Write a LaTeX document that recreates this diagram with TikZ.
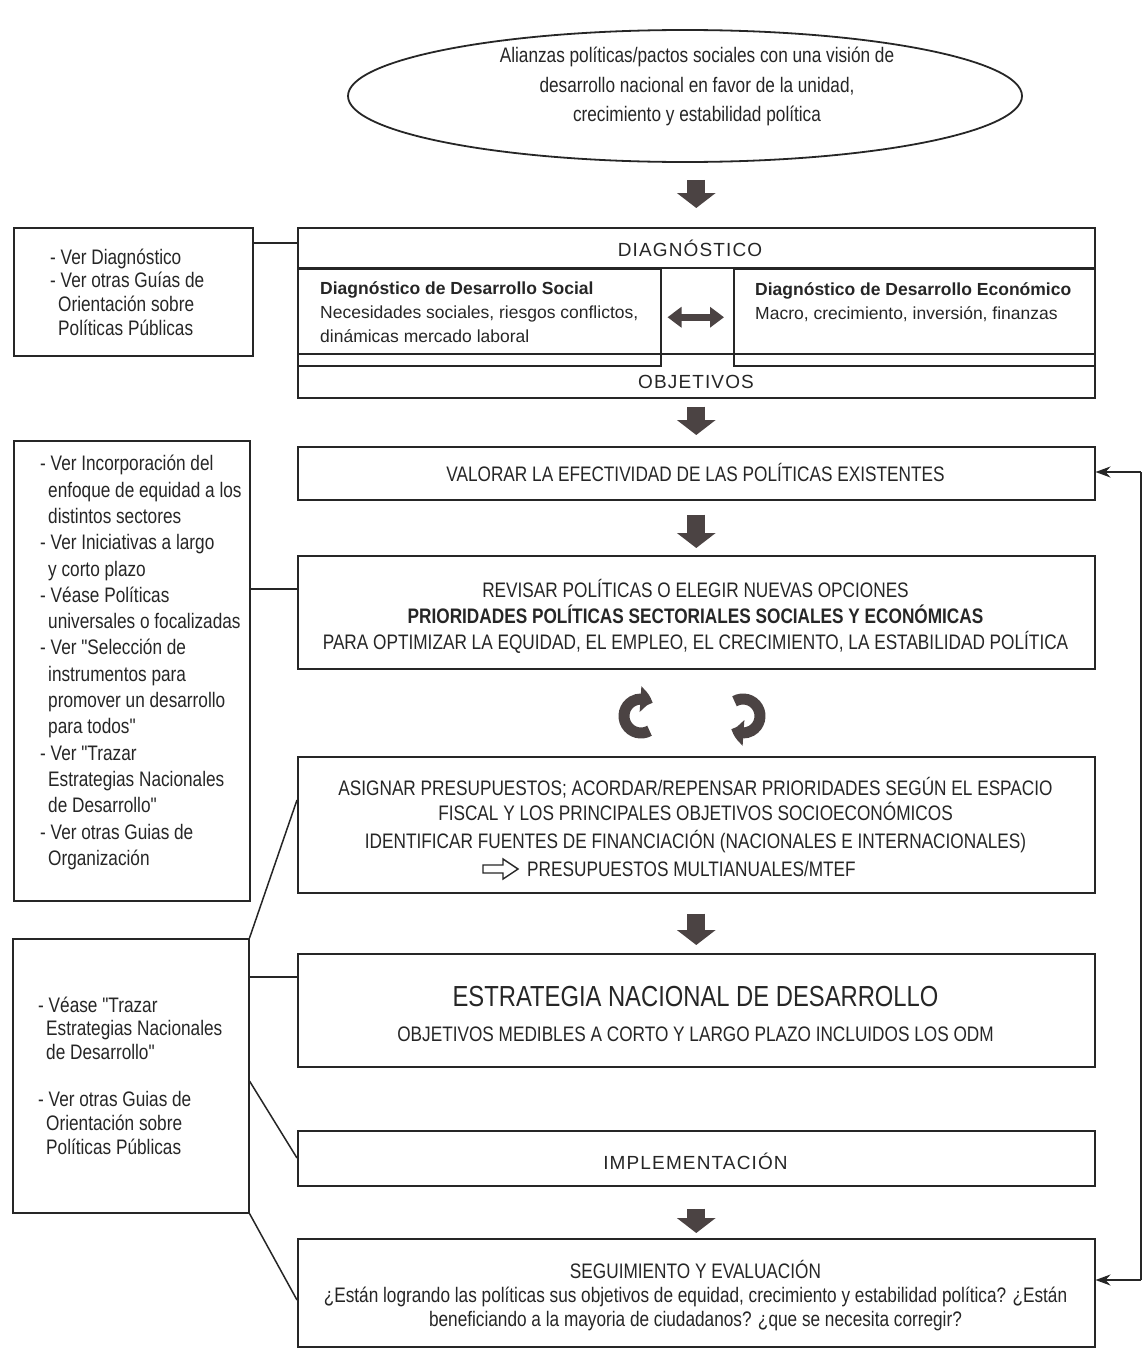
\documentclass[tikz,border=0pt]{standalone}
\usepackage{fontspec}
\setmainfont{Liberation Sans}
\newfontfamily\narrowfont[FakeStretch=0.82]{Liberation Sans}
\newfontfamily\spacedfont[LetterSpace=6]{Liberation Sans}
\usetikzlibrary{shapes.geometric,arrows.meta,calc,bending}
\definecolor{ink}{HTML}{262626}
\definecolor{arrowfill}{HTML}{4B4343}
\newcommand\hind{\hspace*{8pt}}
\begin{document}
\begin{tikzpicture}[x=1pt,y=-1pt,
  box/.style={draw=ink, line width=1.5pt, inner sep=0pt, anchor=north west},
  cline/.style={draw=ink, line width=1.5pt},
  nt/.style={font=\narrowfont\fontsize{21}{26}\selectfont, text=ink, inner sep=0pt, align=center},
  lt/.style={font=\narrowfont\fontsize{21}{23.6}\selectfont, text=ink, inner sep=0pt, align=left, anchor=west},
  dt/.style={font=\fontsize{17.5}{24}\selectfont, text=ink, inner sep=0pt, align=left, anchor=west},
  st/.style={font=\spacedfont\fontsize{19}{22}\selectfont, text=ink, inner sep=0pt},
  blk/.style={draw=arrowfill, line width=18pt, -{Triangle[width=38pt,length=15pt]}},
  dbl/.style={draw=arrowfill, line width=7pt, {Triangle[width=20pt,length=14pt]}-{Triangle[width=20pt,length=14pt]}},
  circ/.style={draw=arrowfill, line width=11pt, -{Triangle[width=25pt,length=13pt,bend]}},
  loopline/.style={draw=ink, line width=1.4pt},
  looparrow/.style={draw=ink, line width=1.4pt, -{Stealth[length=15pt,width=11pt]}}
]
\fill[white] (0,0) rectangle (1144,1349);
\useasboundingbox (0,0) rectangle (1144,1349);

% top ellipse
\node[draw=ink, line width=1.8pt, ellipse, minimum width=674pt, minimum height=132pt, inner sep=0pt] (ell) at (685,96) {};
\node[nt, font=\narrowfont\fontsize{21}{29.5}\selectfont] (ellt) at (697,86.5)
  {Alianzas políticas/pactos sociales con una visión de\\desarrollo nacional en favor de la unidad,\\crecimiento y estabilidad política};

% diagnostic block
\node[box, minimum width=797pt, minimum height=170pt] (diag) at (297,227) {};
\node[box, minimum width=363pt, minimum height=97pt] (social) at (297,268) {};
\node[box, minimum width=361pt, minimum height=97pt] (econ) at (733,268) {};
\draw[cline] (diag.west |- social.north) -- (diag.east |- social.north);
\coordinate (objl) at ($(diag.north west)+(0,127)$);
\draw[cline] (objl) -- (objl -| diag.east);
\node[st] (diagt) at (690,248) {DIAGNÓSTICO};
\node[st] (objt) at (696,382) {OBJETIVOS};
\node[dt] (socialt) at (320,312) {\textbf{Diagnóstico de Desarrollo Social}\\Necesidades sociales, riesgos conflictos,\\dinámicas mercado laboral};
\node[dt] (econt) at (755,302) {\textbf{Diagnóstico de Desarrollo Económico}\\Macro, crecimiento, inversión, finanzas};
\draw[dbl, shorten <=6pt, shorten >=9pt] (social.east) -- (econ.west);

% main boxes
\node[box, minimum width=797pt, minimum height=53pt] (val) at (297,446) {};
\node[box, minimum width=797pt, minimum height=113pt] (rev) at (297,555) {};
\node[box, minimum width=797pt, minimum height=136pt] (asg) at (297,756) {};
\node[box, minimum width=797pt, minimum height=113pt] (est) at (297,953) {};
\node[box, minimum width=797pt, minimum height=55pt] (impl) at (297,1130) {};
\node[box, minimum width=797pt, minimum height=108pt] (seg) at (297,1238) {};

\node[nt] (valt) at (695.5,472.5) {VALORAR LA EFECTIVIDAD DE LAS POLÍTICAS EXISTENTES};
\node[nt] (revt) at (695.5,616) {REVISAR POLÍTICAS O ELEGIR NUEVAS OPCIONES\\\textbf{PRIORIDADES POLÍTICAS SECTORIALES SOCIALES Y ECONÓMICAS}\\PARA OPTIMIZAR LA EQUIDAD, EL EMPLEO, EL CRECIMIENTO, LA ESTABILIDAD POLÍTICA};
\node[nt, font=\narrowfont\fontsize{21}{24.5}\selectfont] (asg1) at (695.5,799) {ASIGNAR PRESUPUESTOS; ACORDAR/REPENSAR PRIORIDADES SEGÚN EL ESPACIO\\FISCAL Y LOS PRINCIPALES OBJETIVOS SOCIOECONÓMICOS};
\node[nt] (asg2) at (695.5,842) {IDENTIFICAR FUENTES DE FINANCIACIÓN (NACIONALES E INTERNACIONALES)};
\node[nt, anchor=west] (asg3) at (527,869) {PRESUPUESTOS MULTIANUALES/MTEF};
\coordinate (ha) at ($(asg3.west)+(-44,0)$);
\draw[draw=ink, line width=1.4pt, line join=miter] ($(ha)+(0,-4)$) -- ++(20,0) -- ++(0,-6) -- ++(15,10) -- ++(-15,10) -- ++(0,-6) -- ++(-20,0) -- cycle;
\node[nt, font=\narrowfont\fontsize{29}{34}\selectfont] (estt) at (695.5,997) {ESTRATEGIA NACIONAL DE DESARROLLO};
\node[nt] (ests) at (695.5,1034) {OBJETIVOS MEDIBLES A CORTO Y LARGO PLAZO INCLUIDOS LOS ODM};
\node[st] (implt) at (695.5,1161) {IMPLEMENTACIÓN};
\node[nt, font=\narrowfont\fontsize{21}{24}\selectfont] (segt) at (695.5,1296) {SEGUIMIENTO Y EVALUACIÓN\\¿Están logrando las políticas sus objetivos de equidad, crecimiento y estabilidad política? ¿Están\\beneficiando a la mayoria de ciudadanos? ¿que se necesita corregir?};

% block arrows
\draw[blk, shorten <=17pt, shorten >=19pt] (diag.north |- ell.south) -- (diag.north);
\draw[blk, shorten <=8pt, shorten >=11pt] (diag.south) -- (val.north);
\draw[blk, shorten <=14pt, shorten >=7pt] (val.south) -- (rev.north);
\draw[blk, shorten <=20pt, shorten >=8pt] (asg.south) -- (est.north);
\draw[blk, shorten <=22pt, shorten >=5pt] (impl.south) -- (seg.north);

% circular arrows (drawn in a y-up scope so angles are visual)
\coordinate (cl) at (641,716);
\coordinate (cr) at (743,716);
\begin{scope}[shift={(cl)}, x=1pt, y=1pt]
  \draw[circ] (-60:17) arc[start angle=-60, end angle=-312, radius=17];
\end{scope}
\begin{scope}[shift={(cr)}, x=1pt, y=1pt]
  \draw[circ] (120:17) arc[start angle=120, end angle=-132, radius=17];
\end{scope}

% left boxes
\node[box, minimum width=239pt, minimum height=128pt] (lb1) at (13,227) {};
\node[box, minimum width=236pt, minimum height=460pt] (lb2) at (13,440) {};
\node[box, minimum width=236pt, minimum height=274pt] (lb3) at (12,938) {};

\node[lt] (lb1t) at (50,292) {- Ver Diagnóstico\\- Ver otras Guías de\\\hind Orientación sobre\\\hind Políticas Públicas};
\node[lt, font=\narrowfont\fontsize{21}{26.3}\selectfont] (lb2t) at (40,662.5) {- Ver Incorporación del\\\hind enfoque de equidad a los\\\hind distintos sectores\\- Ver Iniciativas a largo\\\hind y corto plazo\\- Véase Políticas\\\hind universales o focalizadas\\- Ver "Selección de\\\hind instrumentos para\\\hind promover un desarrollo\\\hind para todos"\\- Ver "Trazar\\\hind Estrategias Nacionales\\\hind de Desarrollo"\\- Ver otras Guias de\\\hind Organización};
\node[lt] (lb3t) at (38,1075.5) {- Véase "Trazar\\\hind Estrategias Nacionales\\\hind de Desarrollo"\\[24pt]- Ver otras Guias de\\\hind Orientación sobre\\\hind Políticas Públicas};

% left connectors
\coordinate (c1) at ($(lb1.north east)+(0,16)$);
\draw[cline] (c1) -- (c1 -| diag.west);
\coordinate (c2) at ($(lb2.north east)+(0,149)$);
\draw[cline] (c2) -- (c2 -| rev.west);
\draw[cline] (lb3.north east) -- ($(asg.north west)+(0,44)$);
\coordinate (c3) at ($(lb3.north east)+(0,39)$);
\draw[cline] (c3) -- (c3 -| est.west);
\draw[cline] ($(lb3.north east)+(0,143)$) -- ($(impl.north west)+(0,28)$);
\draw[cline] (lb3.south east) -- ($(seg.north west)+(0,62)$);

% right feedback loop
\coordinate (rt) at (1141,472);
\coordinate (rb) at (1141,1280);
\draw[loopline] (rt) -- (rb);
\draw[looparrow] (rt) -- (rt -| val.east);
\draw[looparrow] (rb) -- (rb -| seg.east);
\end{tikzpicture}
\end{document}
